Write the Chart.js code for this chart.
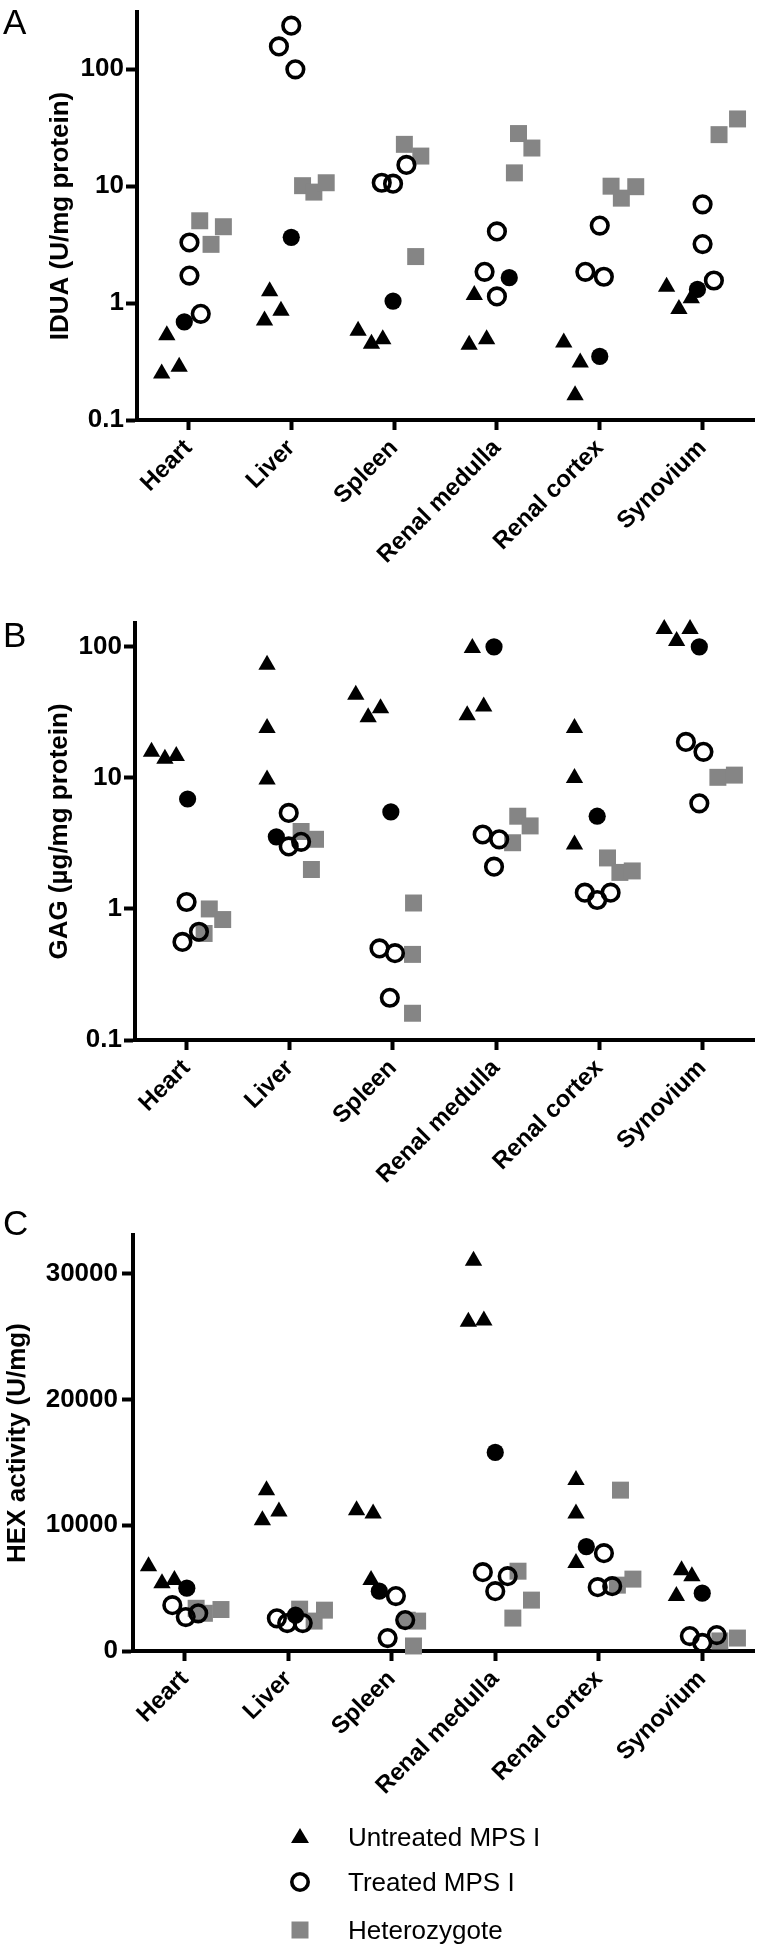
<!DOCTYPE html>
<html>
<head>
<meta charset="utf-8">
<script src="https://cdn.jsdelivr.net/npm/chart.js@4.4.1/dist/chart.umd.min.js"></script>
<style>
  body { margin: 0; background: #fff; width: 766px; height: 1952px; position: relative; overflow: hidden;
         font-family: 'Liberation Sans', Arial, Helvetica, sans-serif; color: #000; }
  .panel { position: absolute; left: 0; }
  .letter { position: absolute; left: 3px; font-size: 35px; line-height: 1; }
  .item { position: absolute; left: 288px; height: 40px; display: flex; align-items: center; font-size: 26px; }
  .item svg { width: 24px; height: 24px; margin-right: 36px; }
</style>
</head>
<body>
<div class="panel" style="top:0"><canvas id="chartA" width="766" height="600"></canvas></div>
<div class="panel" style="top:600px"><canvas id="chartB" width="766" height="600"></canvas></div>
<div class="panel" style="top:1200px"><canvas id="chartC" width="766" height="752"></canvas></div>
<div class="letter" style="top:4px">A</div>
<div class="letter" style="top:617px">B</div>
<div class="letter" style="top:1205px">C</div>
<div id="legend"></div>

<script>
const categories = ['Heart', 'Liver', 'Spleen', 'Renal medulla', 'Renal cortex', 'Synovium'];
const seriesNames = ['Untreated MPS I', 'Treated MPS I', 'Heterozygote'];
const solidName = 'Treated MPS I (solid symbol)';

// IDUA (U/mg protein), one inner list per tissue; *Dx = horizontal scatter in category widths
const iduaUntreated = [[0.25, 0.285, 0.53], [1.26, 0.71, 0.86], [0.58, 0.45, 0.49], [1.17, 0.44, 0.49], [0.46, 0.31, 0.163], [1.38, 1.1, 0.89]];
const iduaUntreatedDx = [[-.26, -.09, -.21], [-.21, -.26, -.10], [-.35, -.22, -.11], [-.22, -.27, -.10], [-.35, -.19, -.24], [-.35, -.11, -.23]];
const iduaSolid = [[0.69], [3.65], [1.04], [1.65], [0.35], [1.31]];
const iduaSolidDx = [[-.04], [0], [-.01], [.12], [0], [-.05]];
const iduaTreated = [[3.3, 1.72, 0.81], [157, 236, 100], [10.7, 10.5, 15.2], [4.1, 1.85, 1.14], [4.6, 1.85, 1.68], [7.0, 3.2, 1.56]];
const iduaTreatedDx = [[.01, .01, .12], [-.12, 0, .04], [-.12, -.01, .12], [0, -.12, 0], [0, -.14, .04], [0, 0, .11]];
const iduaHet = [[5.06, 3.18, 4.5], [10.1, 8.9, 10.7], [22.8, 18.1, 2.5], [28.2, 21.2, 13.0], [10, 9.9, 7.9], [27.6, 37.6]];
const iduaHetDx = [[.11, .22, .34], [.11, .22, .34], [.10, .26, .21], [.21, .34, .17], [.11, .35, .21], [.16, .34]];

// GAG (ug/mg protein)
const gagUntreated = [[15.8, 14, 14.7], [73, 24, 9.7], [43, 29, 34], [98, 30, 35], [24, 10, 3.1], [137, 137, 111]];
const gagUntreatedDx = [[-.34, -.21, -.10], [-.22, -.22, -.22], [-.36, -.24, -.12], [-.23, -.28, -.12], [-.24, -.24, -.24], [-.37, -.12, -.25]];
const gagSolid = [[6.9], [3.55], [5.5], [100], [5.1], [100]];
const gagSolidDx = [[.01], [-.13], [-.02], [-.02], [-.02], [-.03]];
const gagTreated = [[1.13, 0.56, 0.67], [5.4, 3.0, 3.25], [0.50, 0.46, 0.21], [3.7, 3.4, 2.1], [1.33, 1.17, 1.33], [18.8, 15.8, 6.4]];
const gagTreatedDx = [[0, -.04, .12], [-.01, -.01, .11], [-.13, .02, -.03], [-.13, .03, -.02], [-.14, -.02, .11], [-.16, .01, -.03]];
const gagHet = [[1.0, 0.83, 0.65], [3.9, 3.4, 2.0], [1.11, 0.45, 0.16], [5.1, 4.3, 3.2], [2.45, 1.9, 1.95], [10.1, 10.5]];
const gagHetDx = [[.22, .35, .17], [.11, .25, .21], [.20, .19, .19], [.21, .33, .16], [.08, .20, .32], [.15, .31]];

// HEX activity (U/mg)
const hexUntreated = [[6750, 5400, 5640], [10400, 12800, 11100], [11200, 10950, 5640], [31050, 26200, 26300], [13600, 10950, 7000], [6430, 5950, 4370]];
const hexUntreatedDx = [[-.35, -.22, -.10], [-.25, -.21, -.09], [-.34, -.18, -.20], [-.21, -.26, -.11], [-.22, -.22, -.22], [-.20, -.10, -.25]];
const hexSolid = [[5000], [2850], [4760], [15800], [8300], [4600]];
const hexSolidDx = [[.02], [.07], [-.12], [0], [-.12], [0]];
const hexTreated = [[3650, 2700, 3000], [2600, 2220, 2220], [4370, 1030, 2460], [6270, 4760, 5950], [7780, 5080, 5160], [1190, 640, 1270]];
const hexTreatedDx = [[-.12, .01, .13], [-.11, -.01, .14], [.04, -.04, .13], [-.12, 0, .12], [.05, -.01, .13], [-.12, 0, .14]];
const hexHet = [[3400, 3000, 3300], [3330, 3250, 2380], [2450, 2380, 400], [6350, 4050, 2620], [12800, 5720, 5240], [800, 1030]];
const hexHetDx = [[.11, .19, .35], [.11, .35, .25], [.15, .25, .21], [.22, .35, .17], [.21, .33, .18], [.17, .34]];

const logTicks = [0.1, 1, 10, 100];
const hexTicks = [0, 10000, 20000, 30000];

Chart.defaults.font.family = "'Liberation Sans', Arial, Helvetica, sans-serif";
Chart.defaults.color = '#000';

function points(vals, dx) {
  const out = [];
  vals.forEach((group, i) => group.forEach((v, j) => out.push({x: i + dx[i][j], y: v})));
  return out;
}

function makeSets(tre, treDx, sol, solDx, unt, untDx, het, hetDx) {
  return [
    {label: seriesNames[1], data: points(tre, treDx), pointStyle: 'circle', pointRadius: 8.3,
     pointBorderWidth: 3.6, pointBorderColor: '#000', pointBackgroundColor: 'rgba(255,255,255,0)'},
    {label: solidName, data: points(sol, solDx), pointStyle: 'circle', pointRadius: 8.6,
     pointBorderWidth: 0, pointBackgroundColor: '#000'},
    {label: seriesNames[0], data: points(unt, untDx), pointStyle: 'triangle', pointRadius: 10,
     pointBorderWidth: 0, pointBackgroundColor: '#000'},
    {label: seriesNames[2], data: points(het, hetDx), pointStyle: 'rect', pointRadius: 12,
     pointBorderWidth: 0, pointBackgroundColor: '#858585'}
  ].map(d => Object.assign(d, {clip: false, pointHoverRadius: d.pointRadius}));
}

const axisGrid = len => ({drawOnChartArea: false, drawTicks: true, tickLength: len, tickWidth: 4, tickColor: '#000', color: '#000'});
const axisBorder = {display: true, width: 4, color: '#000'};
const tickFont = {size: 26, weight: 'bold'};

function makeChart(id, sets, yOpts, yTitle, titlePad, yWidth, xHeight, top, right, xMax) {
  new Chart(id, {
    type: 'scatter',
    data: {datasets: sets},
    options: {
      responsive: false,
      animation: false,
      events: [],
      layout: {padding: {top: top, right: right, left: 0, bottom: 0}},
      plugins: {legend: {display: false}, tooltip: {enabled: false}},
      scales: {
        x: {
          type: 'linear', position: 'bottom', min: -0.5, max: xMax,
          afterBuildTicks: s => { s.ticks = categories.map((c, i) => ({value: i})); },
          afterFit: s => { s.height = xHeight; s.paddingLeft = 0; s.paddingRight = 0; },
          ticks: {callback: v => categories[v], minRotation: 45, maxRotation: 45, autoSkip: false,
                  font: {size: 24, weight: 'bold'}, color: '#000', padding: 4},
          grid: axisGrid(10),
          border: axisBorder
        },
        y: Object.assign({
          position: 'left',
          afterFit: s => { s.width = yWidth; s.paddingTop = 0; s.paddingBottom = 0; },
          title: {display: true, text: yTitle, font: {size: 26, weight: 'bold'}, color: '#000',
                  padding: {top: titlePad, bottom: 0}},
          grid: axisGrid(11),
          border: axisBorder
        }, yOpts)
      }
    }
  });
}

const logAxis = max => ({
  type: 'logarithmic', min: 0.1, max: max,
  afterBuildTicks: s => { s.ticks = logTicks.map(v => ({value: v})); },
  ticks: {callback: v => String(v), font: tickFont, color: '#000', padding: 2}
});

makeChart('chartA', makeSets(iduaTreated, iduaTreatedDx, iduaSolid, iduaSolidDx, iduaUntreated, iduaUntreatedDx, iduaHet, iduaHetDx),
  logAxis(309), 'IDUA (U/mg protein)', 45, 137, 180, 3, 3, 5.5);

makeChart('chartB', makeSets(gagTreated, gagTreatedDx, gagSolid, gagSolidDx, gagUntreated, gagUntreatedDx, gagHet, gagHetDx),
  logAxis(152), 'GAG (µg/mg protein)', 44, 135, 160, 23, 3, 5.5);

makeChart('chartC', makeSets(hexTreated, hexTreatedDx, hexSolid, hexSolidDx, hexUntreated, hexUntreatedDx, hexHet, hexHetDx),
  {type: 'linear', min: 0, max: 33100,
   afterBuildTicks: s => { s.ticks = hexTicks.map(v => ({value: v})); },
   ticks: {callback: v => String(v), font: tickFont, color: '#000', padding: 4}},
  'HEX activity (U/mg)', 2, 133, 301, 35, 6, 5.5);

// legend below panel C
const markers = [
  '<svg viewBox="0 0 24 24"><polygon points="12,3 21,18 3,18" fill="#000"/></svg>',
  '<svg viewBox="0 0 24 24"><circle cx="12" cy="12" r="8.2" fill="none" stroke="#000" stroke-width="3.6"/></svg>',
  '<svg viewBox="0 0 24 24"><rect x="3.5" y="3.5" width="17" height="17" fill="#858585"/></svg>'
];
const legendTops = [1817, 1862, 1910];
const legend = document.getElementById('legend');
seriesNames.forEach((name, i) => {
  const div = document.createElement('div');
  div.className = 'item';
  div.style.top = legendTops[i] + 'px';
  div.innerHTML = markers[i] + '<span>' + name + '</span>';
  legend.appendChild(div);
});
</script>
</body>
</html>
